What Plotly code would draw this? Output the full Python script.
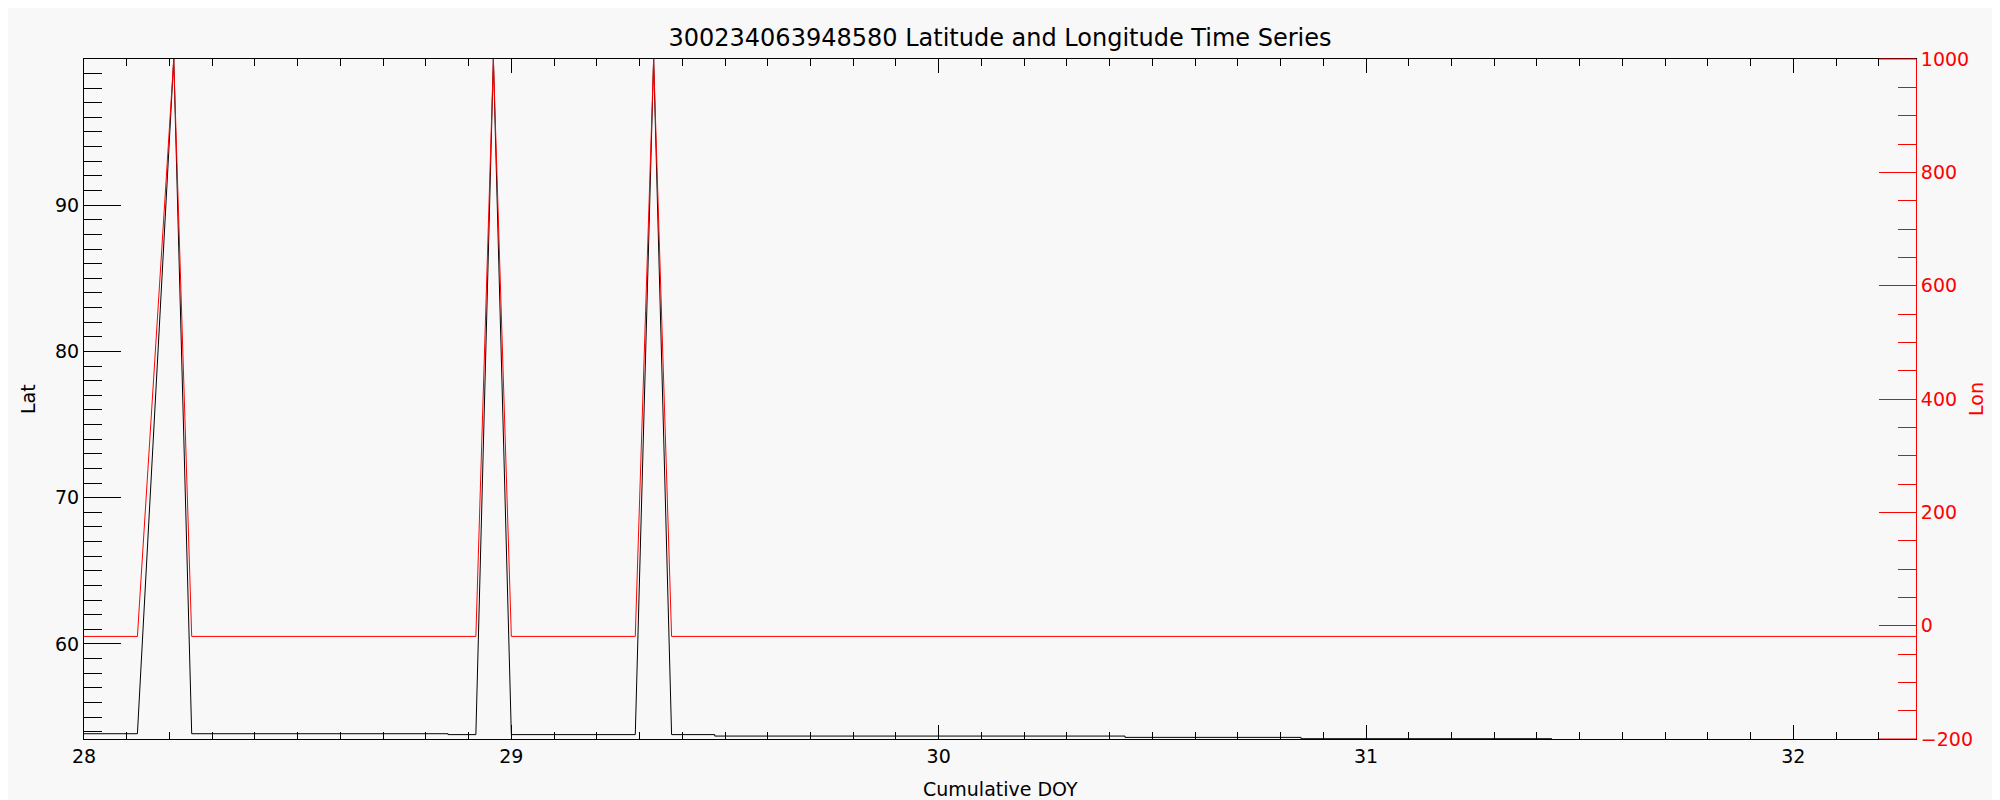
import plotly.graph_objects as go

# Latitude series (black, left axis)
lat_doy = [28.0, 28.125, 28.21, 28.252, 28.852, 28.852, 28.917, 28.958, 29.0,
           29.29, 29.333, 29.375, 29.476, 29.476, 30.436, 30.436, 30.848, 30.848, 31.435]
lat_val = [53.86, 53.86, 99.99, 53.86, 53.86, 53.80, 53.80, 99.99, 53.80,
           53.80, 99.99, 53.80, 53.80, 53.70, 53.70, 53.61, 53.61, 53.52, 53.52]

# Longitude series (red, right axis)
lon_doy = [28.0, 28.125, 28.21, 28.252, 28.917, 28.958, 29.0, 29.29, 29.333, 29.375, 32.287]
lon_val = [-19, -19, 999.99, -19, -19, 999.99, -19, -19, 999.99, -19, -19]

x_ticks = [28, 29, 30, 31, 32]
x_range = [28.0, 32.287]
lat_range = [53.5, 99.99]
lon_range = [-200, 1000]

title = "300234063948580 Latitude and Longitude Time Series"
x_title = "Cumulative DOY"
lat_title = "Lat"
lon_title = "Lon"
FONT = "DejaVu Sans"
BG = "#f8f8f8"
# the page body has an 8px margin: keep the figure inside the 2000x800 window
W, H = 1992, 792
L, R, T, B = 76, 1908, 51, 731
PW, PH = R - L, B - T

fig = go.Figure()
fig.add_trace(go.Scatter(x=lat_doy, y=lat_val, mode="lines",
                         line=dict(color="black", width=1), yaxis="y", showlegend=False))
fig.add_trace(go.Scatter(x=lon_doy, y=lon_val, mode="lines",
                         line=dict(color="red", width=1), yaxis="y2", showlegend=False))

fig.update_layout(
    width=W, height=H,
    paper_bgcolor=BG, plot_bgcolor=BG,
    margin=dict(l=L, r=W - R, t=T, b=H - B, autoexpand=False),
    font=dict(family=FONT, size=19, color="black"),
    title=dict(text=title, x=0.5 * (L + R) / W, xref="container", xanchor="center",
               y=1 - 30 / H, yanchor="middle", yref="container",
               font=dict(family=FONT, size=24, color="black")),
    xaxis=dict(range=x_range, tickvals=x_ticks, ticks="inside", ticklen=14, tickwidth=1,
               tickcolor="black", showline=True, linecolor="black", linewidth=1,
               mirror="ticks", showgrid=False, zeroline=False, automargin=False,
               minor=dict(dtick=0.1, tick0=28, ticks="inside", ticklen=7, tickcolor="black", showgrid=False),
               tickfont=dict(size=19)),
    yaxis=dict(range=lat_range, dtick=10, tick0=0, ticks="inside", ticklen=37, tickwidth=1,
               tickcolor="black", showline=True, linecolor="black", linewidth=1,
               showgrid=False, zeroline=False, automargin=False,
               minor=dict(dtick=1, tick0=0, ticks="inside", ticklen=18, tickcolor="black", showgrid=False),
               tickfont=dict(size=19)),
    yaxis2=dict(range=lon_range, dtick=200, tick0=0, overlaying="y", side="right",
                ticks="inside", ticklen=37, tickwidth=1, tickcolor="red",
                showline=True, linecolor="red", linewidth=1, showgrid=False, zeroline=False,
                automargin=False,
                minor=dict(dtick=50, tick0=0, ticks="inside", ticklen=18, tickcolor="red", showgrid=False),
                tickfont=dict(size=19, color="red")),
)

# axis titles as annotations at fixed pixel positions
fig.add_annotation(text=x_title, xref="paper", yref="paper", x=0.5, y=-(781 - B) / PH,
                   xanchor="center", yanchor="middle", showarrow=False,
                   font=dict(family=FONT, size=19, color="black"))
fig.add_annotation(text=lat_title, xref="paper", yref="paper", x=(20 - L) / PW, y=0.5,
                   xanchor="center", yanchor="middle", textangle=-90, showarrow=False,
                   font=dict(family=FONT, size=19, color="black"))
fig.add_annotation(text=lon_title, xref="paper", yref="paper", x=(1968 - L) / PW, y=0.5,
                   xanchor="center", yanchor="middle", textangle=-90, showarrow=False,
                   font=dict(family=FONT, size=19, color="red"))

# red overdraw of frame beyond the last minor tick
for yy in (0, 1):
    fig.add_shape(type="line", xref="x", yref="paper", x0=32.2, x1=x_range[1], y0=yy, y1=yy,
                  line=dict(color="red", width=1), layer="above")

fig.write_html("out.html")
